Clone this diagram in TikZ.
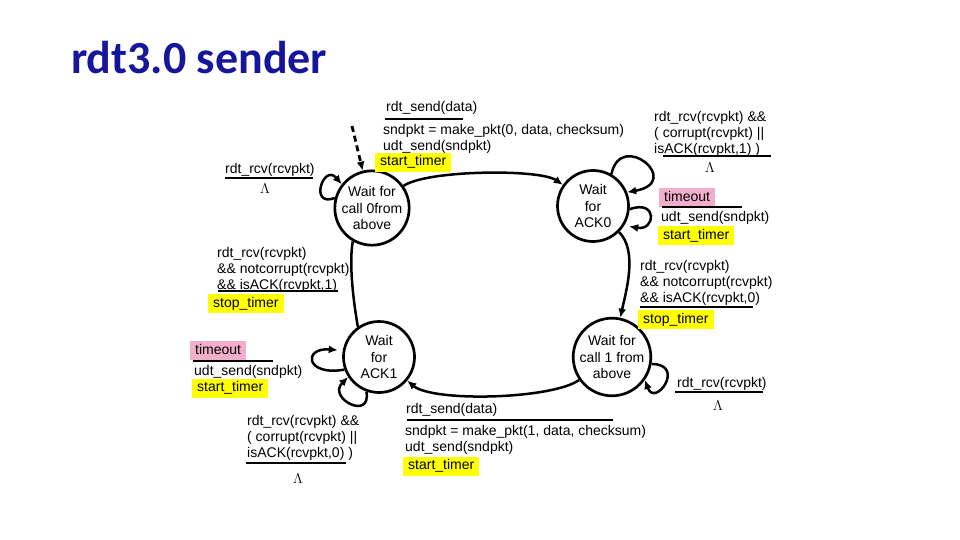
\documentclass[tikz,border=0pt]{standalone}
\usepackage{fontspec}
\setmainfont{Liberation Sans}
\newfontfamily\titlefont{Carlito}
\usepackage{tikz}
\usetikzlibrary{
  arrows.meta,
  positioning
}
\definecolor{titleblue}{RGB}{22,22,155}
\definecolor{hlyellow}{RGB}{255,255,0}
\definecolor{hlpink}{RGB}{242,174,204}
\tikzset{
  state/.style = {
    circle, draw, line width=2.7pt, minimum size=71pt, inner sep=0pt,
    align=center, font=\fontsize{14}{16.5}\selectfont
  },
  trans/.style = {line width=2.5pt, -{Latex[length=9pt,width=8pt]}},
  guardbar/.style = {line width=2.8pt},
  lbl/.style = {
    anchor=north west, inner sep=0pt, align=left,
    font=\fontsize{14}{16.2}\selectfont
  },
  lam/.style = {inner sep=0pt, font=\fontsize{15}{16}\selectfont},
  hiyellow/.style = {
    anchor=west, fill=hlyellow, inner xsep=5pt, inner ysep=3pt,
    text height=10pt, text depth=3pt, font=\fontsize{14}{16}\selectfont
  },
  hipink/.style = {hiyellow, fill=hlpink}
}

\begin{document}
\begin{tikzpicture}[x=1pt, y=1pt]

    \useasboundingbox (0,0) rectangle (960,-540);

    % Title
    \node[anchor=base west, inner sep=0pt, text=titleblue,
          font=\titlefont\bfseries\fontsize{46}{52}\selectfont]
        (title) at (71,-74) {rdt3.0 sender};

    % States
    \node[state] (s0)   at (372,-208) {Wait for\\call 0from\\above};
    \node[state] (ack0) at (593,-206) {Wait\\for\\ACK0};
    \node[state] (ack1) at (379,-357) {Wait\\for\\ACK1};
    \node[state] (c1)   at (612,-357) {Wait for\\call 1 from\\above};

    % Initial state
    \coordinate (init) at (352,-126);
    \draw[trans, dash pattern=on 6pt off 4pt, line width=2.8pt]
        (init) -- (s0.104);

    % Main cycle
    \draw[trans] (s0) to[out=35, in=145, looseness=0.45] (ack0);
    \draw[trans] (ack0) to[out=-45, in=78, looseness=0.8] (c1);
    \draw[trans] (c1) to[out=215, in=-40, looseness=0.5] (ack1);
    \draw[line width=2.5pt]
        (ack1.125) to[out=100, in=-100, looseness=0.7] (s0.240);

    % Self loops
    \draw[trans] (s0.165) .. controls +(200:28) and +(130:28) .. (s0.142);
    \draw[trans] (ack0.60) .. controls +(78:46) and +(10:58) .. (ack0.22);
    \draw[trans, shorten >=5pt]
        (ack0.-5) .. controls +(20:30) and +(-10:32) .. (ack0.-32);
    \draw[trans, shorten >=5pt]
        (ack1.200) .. controls +(190:40) and +(175:40) .. (ack1.170);
    \draw[trans] (ack1.-110) .. controls +(-80:30) and +(225:30) .. (ack1.213);
    \draw[trans] (c1.-10) .. controls +(0:35) and +(-70:30) .. (c1.-35);

    % s0 -> ack0
    \node[lbl] (send0) at (386,-101) {rdt\_send(data)};
    \draw[guardbar] (385,-119) -- (463,-119);
    \node[lbl] (make0) at (383,-124)
        {sndpkt = make\_pkt(0, data, checksum)\\udt\_send(sndpkt)};
    \node[hiyellow] (st0) at (375,-162.5) {start\_timer};

    % s0 self loop
    \node[lbl] (rcv0) at (225,-163) {rdt\_rcv(rcvpkt)};
    \draw[guardbar] (225,-178) -- (313,-178);
    \node[lam] (lam0) at (265,-189) {$\Lambda$};

    % ack0 top loop
    \node[lbl] (bad0) at (654,-111)
        {rdt\_rcv(rcvpkt) \&\&\\( corrupt(rcvpkt) ||\\isACK(rcvpkt,1) )};
    \draw[guardbar] (663,-156) -- (771,-156);
    \node[lam] (lam1) at (710,-168) {$\Lambda$};

    % ack0 timeout
    \node[hipink] (to0) at (659,-197.5) {timeout};
    \draw[guardbar] (662,-207) -- (742,-207);
    \node[lbl] (resend0) at (661,-211) {udt\_send(sndpkt)};
    \node[hiyellow] (st1) at (658,-235.5) {start\_timer};

    % ack0 -> c1
    \node[lbl] (ok0) at (640,-260)
        {rdt\_rcv(rcvpkt)\\\&\& notcorrupt(rcvpkt)\\\&\& isACK(rcvpkt,0)};
    \draw[guardbar] (640,-307) -- (753,-307);
    \node[hiyellow] (stop0) at (638,-319.5) {stop\_timer};

    % ack1 -> s0
    \node[lbl] (ok1) at (217,-247)
        {rdt\_rcv(rcvpkt)\\\&\& notcorrupt(rcvpkt)\\\&\& isACK(rcvpkt,1)};
    \draw[guardbar] (218,-291) -- (338,-291);
    \node[hiyellow] (stop1) at (208,-303.5) {stop\_timer};

    % ack1 timeout
    \node[hipink] (to1) at (190,-350.5) {timeout};
    \draw[guardbar] (193,-361) -- (273,-361);
    \node[lbl] (resend1) at (194,-365) {udt\_send(sndpkt)};
    \node[hiyellow] (st2) at (192,-388) {start\_timer};

    % ack1 bottom loop
    \node[lbl] (bad1) at (247,-415)
        {rdt\_rcv(rcvpkt) \&\&\\( corrupt(rcvpkt) ||\\isACK(rcvpkt,0) )};
    \draw[guardbar] (246,-463) -- (346,-463);
    \node[lam] (lam2) at (298,-479) {$\Lambda$};

    % c1 -> ack1
    \node[lbl] (send1) at (406,-403) {rdt\_send(data)};
    \draw[guardbar] (407,-420) -- (613,-420);
    \node[lbl] (make1) at (405,-425)
        {sndpkt = make\_pkt(1, data, checksum)\\udt\_send(sndpkt)};
    \node[hiyellow] (st3) at (403,-466) {start\_timer};

    % c1 self loop
    \node[lbl] (rcv1) at (677,-377) {rdt\_rcv(rcvpkt)};
    \draw[guardbar] (675,-392) -- (763,-392);
    \node[lam] (lam3) at (718,-406) {$\Lambda$};

\end{tikzpicture}
\end{document}
